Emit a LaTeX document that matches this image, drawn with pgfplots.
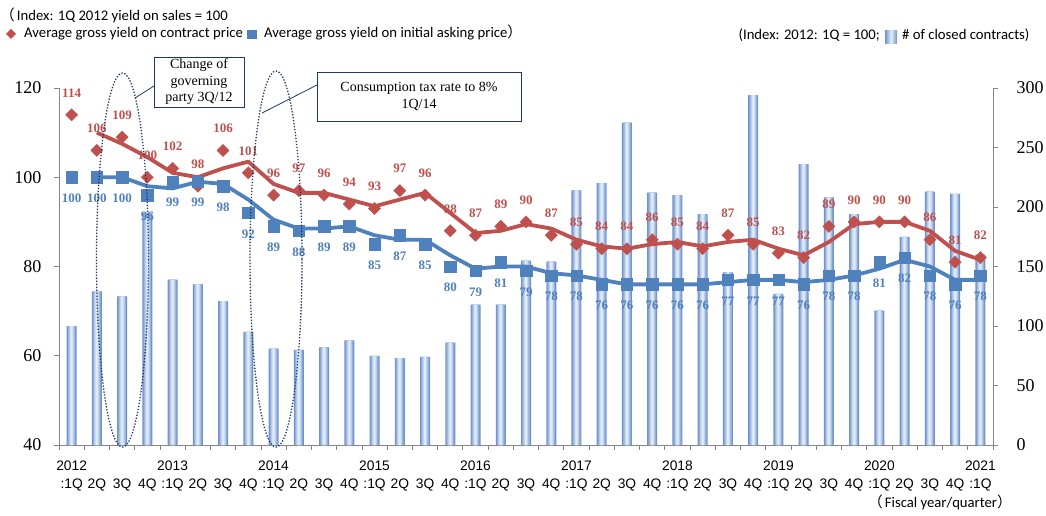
\documentclass[border=0pt]{standalone}
\usepackage{pgfplots}
\pgfplotsset{compat=1.18}
\usepackage{fontspec}
\setmainfont{Liberation Serif}
\newfontfamily\lsans{Liberation Sans}
\newfontfamily\carl{Carlito}
\newfontfamily\cjk{Noto Sans CJK JP}
\definecolor{redc}{RGB}{192,80,77}
\definecolor{bluec}{RGB}{79,129,189}
\definecolor{barA}{RGB}{110,146,204}
\definecolor{barB}{RGB}{145,175,219}
\definecolor{barC}{RGB}{180,201,232}
\definecolor{barD}{RGB}{207,221,241}
\definecolor{barE}{RGB}{226,235,248}
\definecolor{baredge}{RGB}{112,148,205}
\definecolor{barmid}{RGB}{228,236,247}
\definecolor{axgray}{RGB}{134,134,134}
\definecolor{navy}{RGB}{31,56,100}
\pgfplotstableread{
x y
0 100
1 129
2 125
3 195
4 139
5 135
6 121
7 95
8 81
9 80
10 82
11 88
12 75
13 73
14 74
15 86
16 118
17 118
18 155
19 154
20 214
21 220
22 271
23 212
24 210
25 194
26 145
27 294
28 127
29 236
30 208
31 194
32 113
33 175
34 213
35 211
36 160
}\bars
\begin{document}
\begin{tikzpicture}
\useasboundingbox (0pt,0pt) rectangle (1046pt,-516pt);
% ---------- bars (right axis) ----------
\begin{axis}[
  at={(59pt,-445pt)}, anchor=south west,
  scale only axis, width=934pt, height=357pt,
  xmin=-0.5, xmax=36.5, ymin=0, ymax=300,
  axis x line*=bottom, axis y line*=right,
  x axis line style={-, draw=axgray, line width=0.8pt},
  y axis line style={-, draw=axgray, line width=0.8pt},
  tick style={draw=axgray, line width=0.8pt},
  tick align=outside,
  major tick length=5pt, minor tick length=5pt,
  xtick={0,...,36},
  major x tick style={draw=none},
  minor xtick={-0.5,0.5,...,36.5},
  xticklabels={
    {2012\\:1Q},{\phantom{0}\\2Q},{\phantom{0}\\3Q},{\phantom{0}\\4Q},
    {2013\\:1Q},{\phantom{0}\\2Q},{\phantom{0}\\3Q},{\phantom{0}\\4Q},
    {2014\\:1Q},{\phantom{0}\\2Q},{\phantom{0}\\3Q},{\phantom{0}\\4Q},
    {2015\\:1Q},{\phantom{0}\\2Q},{\phantom{0}\\3Q},{\phantom{0}\\4Q},
    {2016\\:1Q},{\phantom{0}\\2Q},{\phantom{0}\\3Q},{\phantom{0}\\4Q},
    {2017\\:1Q},{\phantom{0}\\2Q},{\phantom{0}\\3Q},{\phantom{0}\\4Q},
    {2018\\:1Q},{\phantom{0}\\2Q},{\phantom{0}\\3Q},{\phantom{0}\\4Q},
    {2019\\:1Q},{\phantom{0}\\2Q},{\phantom{0}\\3Q},{\phantom{0}\\4Q},
    {2020\\:1Q},{\phantom{0}\\2Q},{\phantom{0}\\3Q},{\phantom{0}\\4Q},
    {2021\\:1Q}},
  xticklabel style={font=\lsans\fontsize{13.8}{18.5}\selectfont, align=center, anchor=north, yshift=-7pt},
  ytick={0,50,100,150,200,250,300},
  yticklabels={0,50,100,150,200,250,300},
  yticklabel style={font=\fontsize{18}{18}\selectfont, xshift=15pt},
  clip=false,
]
\addplot[ybar, bar width=10pt, draw=none, fill=barA] table[x=x,y=y]{\bars};
\addplot[ybar, bar width=7.6pt, draw=none, fill=barB] table[x=x,y=y]{\bars};
\addplot[ybar, bar width=5.4pt, draw=none, fill=barC] table[x=x,y=y]{\bars};
\addplot[ybar, bar width=3.4pt, draw=none, fill=barD] table[x=x,y=y]{\bars};
\addplot[ybar, bar width=1.6pt, draw=none, fill=barE] table[x=x,y=y]{\bars};
\end{axis}
% ---------- yields (left axis) ----------
\begin{axis}[
  at={(59pt,-445pt)}, anchor=south west,
  scale only axis, width=934pt, height=357pt,
  xmin=-0.5, xmax=36.5, ymin=40, ymax=120,
  axis x line=none, axis y line*=left,
  y axis line style={-, draw=axgray, line width=0.8pt},
  tick style={draw=axgray, line width=0.8pt},
  tick align=outside, major tick length=5pt,
  ytick={40,60,80,100,120},
  yticklabels={40,60,80,100,120},
  yticklabel style={font=\fontsize{18}{18}\selectfont, xshift=-9pt},
  clip=false,
]
\addplot[redc, line width=3.8pt, line join=round, no marks] coordinates {
(1,110) (2,107.5) (3,104.5) (4,101) (5,100) (6,102) (7,103.5) (8,98.5) (9,96.5) (10,96.5)
(11,95) (12,93.5) (13,95) (14,96.5) (15,92) (16,87.5) (17,88) (18,89.5) (19,88.5) (20,86)
(21,84.5) (22,84) (23,85) (24,85.5) (25,84.5) (26,85.5) (27,86) (28,84) (29,82.5) (30,85.5)
(31,89.5) (32,90) (33,90) (34,88) (35,83.5) (36,81.5)
};
\addplot[bluec, line width=3.8pt, line join=round, no marks] coordinates {
(1,100) (2,100) (3,98) (4,97.5) (5,99) (6,98.5) (7,95) (8,90.5) (9,88.5) (10,88.5)
(11,89) (12,87) (13,86) (14,86) (15,82.5) (16,79.5) (17,80) (18,80) (19,78.5) (20,78)
(21,77) (22,76) (23,76) (24,76) (25,76) (26,76.5) (27,77) (28,77) (29,76.5) (30,77)
(31,78) (32,79.5) (33,81.5) (34,80) (35,77) (36,77)
};
\addplot[only marks, mark=square*, mark size=4.3pt, mark options={rotate=45, fill=redc, draw=redc},
  point meta=explicit symbolic, nodes near coords,
  nodes near coords style={font=\bfseries\fontsize{13}{13}\selectfont, text=redc, anchor=center, yshift=22pt}]
coordinates {
(0,114)[114] (1,106)[106] (2,109)[109] (3,100)[100] (4,102)[102] (5,98)[98] (6,106)[106] (7,101)[101]
(8,96)[96] (9,97)[97] (10,96)[96] (11,94)[94] (12,93)[93] (13,97)[97] (14,96)[96] (15,88)[88]
(16,87)[87] (17,89)[89] (18,90)[90] (19,87)[87] (20,85)[85] (21,84)[84] (22,84)[84] (23,86)[86]
(24,85)[85] (25,84)[84] (26,87)[87] (27,85)[85] (28,83)[83] (29,82)[82] (30,89)[89] (31,90)[90]
(32,90)[90] (33,90)[90] (34,86)[86] (35,81)[81] (36,82)[82]
};
\addplot[only marks, mark=square*, mark size=5.7pt, mark options={fill=bluec, draw=bluec},
  point meta=explicit symbolic, nodes near coords,
  nodes near coords style={font=\bfseries\fontsize{13}{13}\selectfont, text=bluec, anchor=center, yshift=-21pt}]
coordinates {
(0,100)[100] (1,100)[100] (2,100)[100] (3,96)[96] (4,99)[99] (5,99)[99] (6,98)[98] (7,92)[92]
(8,89)[89] (9,88)[88] (10,89)[89] (11,89)[89] (12,85)[85] (13,87)[87] (14,85)[85] (15,80)[80]
(16,79)[79] (17,81)[81] (18,79)[79] (19,78)[78] (20,78)[78] (21,76)[76] (22,76)[76] (23,76)[76]
(24,76)[76] (25,76)[76] (26,77)[77] (27,77)[77] (28,77)[77] (29,76)[76] (30,78)[78] (31,78)[78]
(32,81)[81] (33,82)[82] (34,78)[78] (35,76)[76] (36,78)[78]
};
\end{axis}
% ---------- annotations ----------
\draw[navy, line width=1.3pt, dash pattern=on 1.3pt off 1.7pt] (122.5pt,-260pt) ellipse [x radius=26pt, y radius=187pt];
\draw[navy, line width=1.3pt, dash pattern=on 1.3pt off 1.7pt] (276pt,-259pt) ellipse [x radius=26pt, y radius=188pt];
\draw[navy, line width=0.8pt] (154pt,-86pt) -- (135pt,-98pt);
\draw[navy, line width=0.8pt] (317pt,-85pt) -- (262pt,-113pt);
\node[draw=navy, line width=0.8pt, fill=white, minimum width=90pt, minimum height=50pt, inner sep=0pt,
  align=center, font=\fontsize{14}{16.5}\selectfont] at (199pt,-82pt) {Change of\\governing\\party 3Q/12};
\node[draw=navy, line width=0.8pt, fill=white, minimum width=204pt, minimum height=49pt, inner sep=0pt,
  align=center, font=\fontsize{14}{16.5}\selectfont] at (419pt,-96.5pt) {Consumption tax rate to 8\%\\1Q/14};
% ---------- legend texts ----------
\node[anchor=base west, inner sep=0pt, font=\carl\fontsize{14.7}{15}\selectfont] at (0pt,-21pt)
  {{\cjk （}\hspace{2pt}Index: 1Q 2012 yield on sales = 100};
\fill[redc] (11pt,-29pt) -- (16pt,-34pt) -- (11pt,-39pt) -- (6pt,-34pt) -- cycle;
\node[anchor=base west, inner sep=0pt, font=\carl\fontsize{14.7}{15}\selectfont] at (24pt,-37.5pt)
  {Average gross yield on contract price};
\fill[bluec] (247pt,-30.5pt) rectangle (257pt,-39.5pt);
\node[anchor=base west, inner sep=0pt, font=\carl\fontsize{14.7}{15}\selectfont] at (264pt,-37.5pt)
  {Average gross yield on initial asking price{\cjk ）}};
\node[anchor=base east, inner sep=0pt, font=\carl\fontsize{14.7}{15}\selectfont] at (880pt,-39.5pt)
  {(Index: 2012: 1Q = 100;};
\shade[left color=baredge, right color=baredge, middle color=barmid] (885pt,-31pt) rectangle (897pt,-44pt);
\node[anchor=base west, inner sep=0pt, font=\carl\fontsize{14.7}{15}\selectfont] at (902pt,-39.5pt)
  {\# of closed contracts)};
\node[anchor=base west, inner sep=0pt, font=\carl\fontsize{14.7}{15}\selectfont] at (868pt,-507pt)
  {{\cjk （}\hspace{2pt}Fiscal year/quarter{\cjk ）}};
\end{tikzpicture}
\end{document}
